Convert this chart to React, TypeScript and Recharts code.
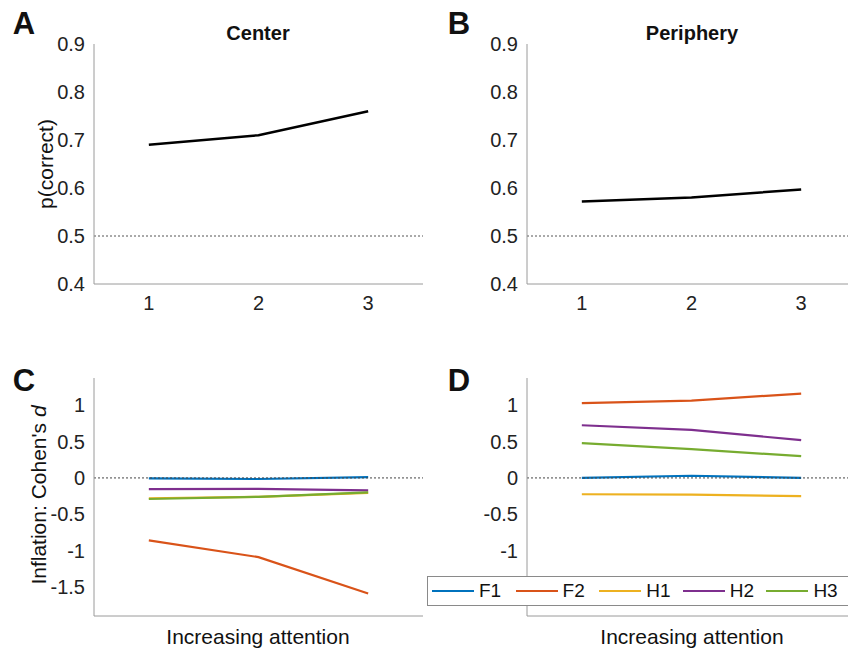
import React from "react";
import { Line, LineChart, ReferenceLine, XAxis, YAxis } from "recharts";

// attention levels
const levels = [1, 2, 3];
const levelTicks = [1, 2, 3];

// p(correct), top row
const accCenter = [0.69, 0.71, 0.76];
const accPeriphery = [0.572, 0.58, 0.597];
const accTicks = [0.4, 0.5, 0.6, 0.7, 0.8, 0.9];

// inflation (Cohen's d), bottom row
const seriesNames = ["F1", "F2", "H1", "H2", "H3"];
const seriesColors = ["#0072BD", "#D95319", "#EDB120", "#7E2F8E", "#77AC30"];
const infCenter = [
  [-0.005, -0.015, 0.01],
  [-0.86, -1.09, -1.59],
  [-0.28, -0.26, -0.205],
  [-0.155, -0.15, -0.17],
  [-0.29, -0.26, -0.2],
];
const infPeriphery = [
  [0.0, 0.03, 0.0],
  [1.03, 1.065, 1.16],
  [-0.225, -0.23, -0.25],
  [0.725, 0.66, 0.52],
  [0.48, 0.395, 0.3],
];
const infTicks = [-1.5, -1, -0.5, 0, 0.5, 1];
// -1.5 sits under the legend box on the right panel
const infTicksRight = [-1, -0.5, 0, 0.5, 1];

const FONT = '"Liberation Sans", Arial, sans-serif';
const AXIS = "#9a9a9a";
const tickStyle = { fontSize: 20, fill: "#222", fontFamily: FONT };

const accRows = (vals: number[]) => levels.map((x, i) => ({ x, acc: vals[i] }));
const infRows = (sets: number[][]) =>
  levels.map((x, i) => {
    const row: { [k: string]: number } = { x };
    seriesNames.forEach((n, s) => (row[n] = sets[s][i]));
    return row;
  });

const Txt = (p: { x: number; y: number; size: number; bold?: boolean; rotate?: boolean; children: React.ReactNode }) => (
  <div
    style={{
      position: "absolute",
      left: p.x,
      top: p.y,
      transform: `translate(-50%, -50%)${p.rotate ? " rotate(-90deg)" : ""}`,
      fontSize: p.size,
      fontWeight: p.bold ? "bold" : "normal",
      fontFamily: FONT,
      color: "#111",
      whiteSpace: "nowrap",
      lineHeight: 1,
    }}
  >
    {p.children}
  </div>
);

const AccPanel = ({ vals, left }: { vals: number[]; left: number }) => (
  <div style={{ position: "absolute", left, top: 0 }}>
    <LineChart width={440} height={330} data={accRows(vals)} margin={{ top: 44, right: 17, left: 0, bottom: 0 }}>
      <XAxis
        dataKey="x"
        type="number"
        domain={[0.5, 3.5]}
        ticks={levelTicks}
        height={46}
        stroke={AXIS}
        tickLine={false}
        tickSize={0}
        tickMargin={12}
        tick={tickStyle}
      />
      <YAxis
        type="number"
        domain={[0.4, 0.9]}
        ticks={accTicks}
        width={94}
        stroke={AXIS}
        tickLine={false}
        tickSize={0}
        tickMargin={9}
        tick={tickStyle}
      />
      <ReferenceLine y={0.5} stroke="#555" strokeDasharray="2 2" />
      <Line dataKey="acc" stroke="#000" strokeWidth={2.5} dot={false} isAnimationActive={false} />
    </LineChart>
  </div>
);

const InfPanel = ({ sets, left, ticks }: { sets: number[][]; left: number; ticks: number[] }) => (
  <div style={{ position: "absolute", left, top: 340 }}>
    <LineChart width={440} height={300} data={infRows(sets)} margin={{ top: 38, right: 17, left: 0, bottom: 0 }}>
      <XAxis dataKey="x" type="number" domain={[0.5, 3.5]} ticks={levelTicks} height={24} stroke={AXIS} tick={false} tickLine={false} />
      <YAxis
        type="number"
        domain={[-1.9, 1.375]}
        ticks={ticks}
        width={94}
        stroke={AXIS}
        tickLine={false}
        tickSize={0}
        tickMargin={9}
        tick={tickStyle}
        allowDataOverflow
      />
      {seriesNames.map((n, i) => (
        <Line key={n} dataKey={n} stroke={seriesColors[i]} strokeWidth={2.2} dot={false} isAnimationActive={false} />
      ))}
      <ReferenceLine y={0} stroke="#444" strokeDasharray="2 2" />
    </LineChart>
  </div>
);

export default function App() {
  return (
    <div style={{ position: "absolute", left: 0, top: 0, width: 848, height: 649, overflow: "hidden", background: "#fff" }}>
      <AccPanel vals={accCenter} left={0} />
      <AccPanel vals={accPeriphery} left={433} />
      <InfPanel sets={infCenter} left={0} ticks={infTicks} />
      <InfPanel sets={infPeriphery} left={433} ticks={infTicksRight} />

      <Txt x={24} y={23} size={31} bold>A</Txt>
      <Txt x={459} y={23} size={31} bold>B</Txt>
      <Txt x={24} y={380} size={31} bold>C</Txt>
      <Txt x={459} y={380} size={31} bold>D</Txt>

      <Txt x={258} y={33} size={20} bold>Center</Txt>
      <Txt x={692} y={33} size={20} bold>Periphery</Txt>

      <Txt x={45} y={164} size={21} rotate>p(correct)</Txt>
      <Txt x={38} y={495} size={21} rotate>
        Inflation: Cohen's <i>d</i>
      </Txt>

      <Txt x={258} y={636} size={21}>Increasing attention</Txt>
      <Txt x={692} y={636} size={21}>Increasing attention</Txt>

      <div
        style={{
          position: "absolute",
          left: 427,
          top: 576,
          width: 418,
          height: 28,
          border: "1px solid #8a8a8a",
          background: "#fff",
          display: "flex",
          alignItems: "center",
          paddingLeft: 4,
          boxSizing: "content-box",
          fontFamily: FONT,
          fontSize: 19,
          color: "#111",
        }}
      >
        {seriesNames.map((n, i) => (
          <div key={n} style={{ width: 84, display: "flex", alignItems: "center" }}>
            <div style={{ width: 42, height: 2, background: seriesColors[i], marginRight: 5 }} />
            <span>{n}</span>
          </div>
        ))}
      </div>
    </div>
  );
}
